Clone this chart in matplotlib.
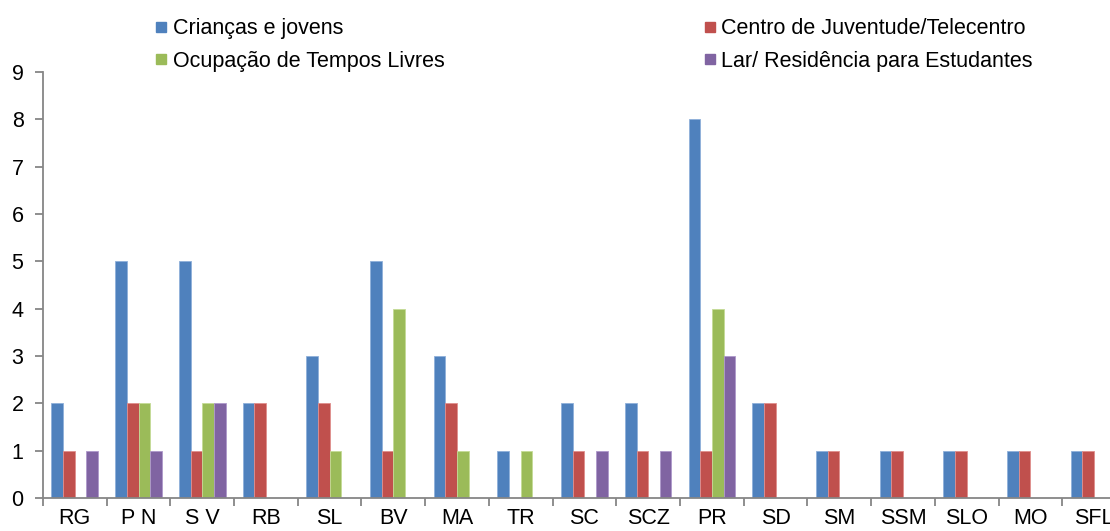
import numpy as np
import matplotlib.pyplot as plt
from matplotlib.lines import Line2D

plt.rcParams['font.family'] = ['Liberation Sans', 'DejaVu Sans']

# Equipamentos por freguesia
freguesias = ['RG', 'P N', 'S V', 'RB', 'SL', 'BV', 'MA', 'TR', 'SC', 'SCZ',
              'PR', 'SD', 'SM', 'SSM', 'SLO', 'MO', 'SFL']
criancas = [2, 5, 5, 2, 3, 5, 3, 1, 2, 2, 8, 2, 1, 1, 1, 1, 1]
centro_juventude = [1, 2, 1, 2, 2, 1, 2, 0, 1, 1, 1, 2, 1, 1, 1, 1, 1]
tempos_livres = [0, 2, 2, 0, 1, 4, 1, 1, 0, 0, 4, 0, 0, 0, 0, 0, 0]
residencia = [1, 1, 2, 0, 0, 0, 0, 0, 1, 1, 3, 0, 0, 0, 0, 0, 0]

series = [
    ('Crianças e jovens', criancas, '#4F81BD', '#8FB0DA'),
    ('Centro de Juventude/Telecentro', centro_juventude, '#C0504D', '#E08E8C'),
    ('Ocupação de Tempos Livres', tempos_livres, '#9BBB59', '#C4DB96'),
    ('Lar/ Residência para Estudantes', residencia, '#8064A2', '#AE98CB'),
]

FS = 15.5

fig = plt.figure(figsize=(11.1, 5.31), dpi=100)
ax = fig.add_axes([0.0387, 0.0621, 0.9757, 0.8023])

x = np.arange(len(freguesias))
w = 0.183
for k, (name, vals, color, edge) in enumerate(series):
    ax.bar(x + (k - 1.5) * w, vals, w, color=color, edgecolor=edge,
           linewidth=0.6, label=name)

axis_gray = '#868686'
ax.set_xlim(-0.5, len(freguesias) - 0.5)
ax.set_ylim(0, 9)
ax.set_yticks(range(10))
ax.set_xticks(x)
ax.set_xticklabels(freguesias)
ax.set_xticks(np.arange(len(freguesias) + 1) - 0.5, minor=True)

for side in ('top', 'right'):
    ax.spines[side].set_visible(False)
for side in ('left', 'bottom'):
    ax.spines[side].set_color(axis_gray)
    ax.spines[side].set_linewidth(1.3)

ax.tick_params(axis='x', which='major', length=0, labelsize=FS, pad=7.5)
ax.tick_params(axis='x', which='minor', length=6, width=1.3, color=axis_gray)
ax.tick_params(axis='y', length=6, width=1.3, color=axis_gray,
               labelsize=FS, pad=8)

# legend in two columns above the plot
handles = [Line2D([], [], marker='s', linestyle='none', markersize=7.5,
                  markerfacecolor=c, markeredgecolor=c) for _, _, c, _ in series]
labels = [s[0] for s in series]
order = [0, 2, 1, 3]
fig.legend([handles[i] for i in order], [labels[i] for i in order],
           ncol=2, loc='upper left', bbox_to_anchor=(0.1225, 1.002),
           frameon=False, fontsize=FS, handlelength=0.5, handletextpad=0.3,
           columnspacing=12.07, labelspacing=0.52)

fig.savefig('out.png', dpi=100)
